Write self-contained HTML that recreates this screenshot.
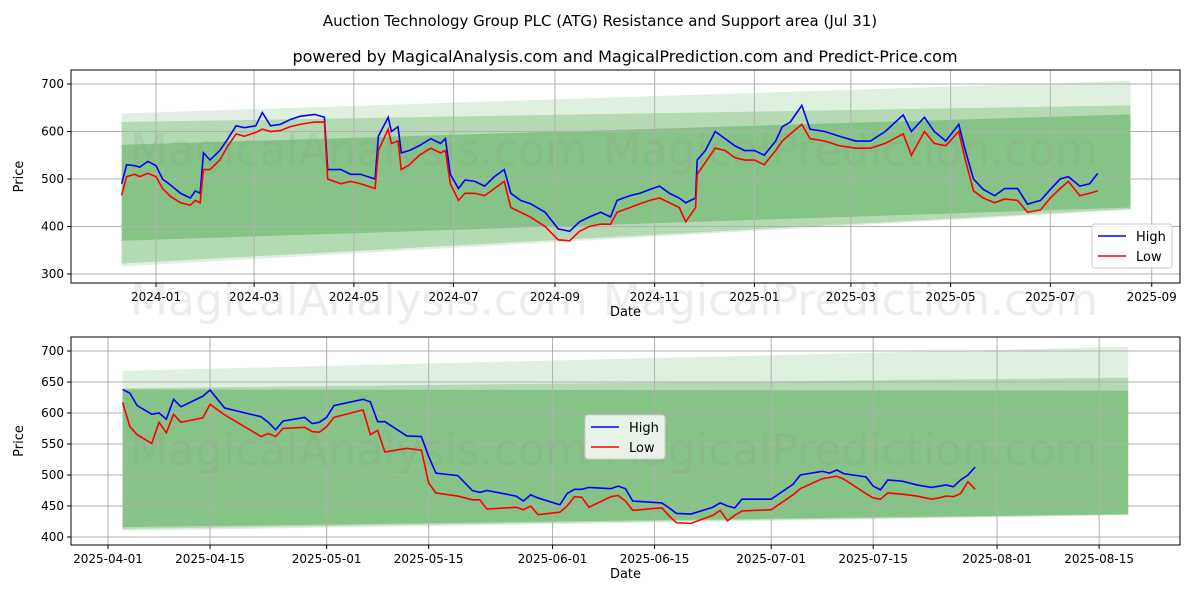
<!DOCTYPE html>
<html><head><meta charset="utf-8"><style>
body{margin:0;background:#fff}
svg text{font-family:"DejaVu Sans","Liberation Sans",sans-serif}
</style></head><body>
<svg id="c" width="1200" height="600" xmlns="http://www.w3.org/2000/svg">
<text x="600" y="26" text-anchor="middle" font-size="15">Auction Technology Group PLC (ATG) Resistance and Support area (Jul 31)</text>
<text x="625" y="62" text-anchor="middle" font-size="16">powered by MagicalAnalysis.com and MagicalPrediction.com and Predict-Price.com</text>
</svg>
<script>
// Top chart: days since 2024-01-01
const topDays=[-21,-18,-13,-10,-5,0,4,9,15,21,24,27,29,33,39,44,49,54,61,65,70,76,82,88,97,103,105,113,119,125,134,136,142,144,148,150,155,161,168,174,177,180,185,189,195,201,207,213,217,223,229,238,246,253,259,265,272,278,282,290,296,302,308,314,320,324,330,331,336,342,348,354,360,366,372,379,383,388,395,400,409,418,428,437,446,457,462,470,476,483,491,495,500,506,513,519,527,533,541,547,553,558,565,571,576];
const topHigh=[490,530,528,525,537,528,500,487,470,460,475,470,555,540,560,585,612,608,612,640,612,615,625,632,636,630,520,520,510,510,500,590,630,600,610,555,560,570,585,575,585,510,480,498,495,485,505,520,470,455,448,430,395,390,410,420,430,420,455,465,470,478,485,470,460,450,460,540,560,600,585,570,560,560,550,580,610,620,655,605,600,590,580,580,600,635,600,630,600,580,615,560,500,478,465,480,480,447,455,478,500,505,485,490,512];
const topLow=[466,505,510,505,512,505,480,463,450,445,455,450,520,520,540,570,595,590,598,605,600,602,610,615,620,620,500,490,495,490,480,560,605,575,580,520,530,550,565,555,560,490,455,470,470,465,480,495,440,430,420,400,372,370,390,400,405,405,430,440,448,455,460,450,440,410,440,510,535,565,560,545,540,540,530,560,580,595,615,585,580,570,565,565,575,595,550,600,575,570,600,540,475,460,450,458,455,430,435,460,480,495,465,470,475];
const topTicks=[300,400,500,600,700];
const topXTicks=[["2024-01",0],["2024-03",60],["2024-05",121],["2024-07",182],["2024-09",244],["2024-11",305],["2025-01",366],["2025-03",425],["2025-05",486],["2025-07",547],["2025-09",609]];
const topBands=[[-21,596,638,707,316,435],[-21,596,620,655,322,437],[-21,596,572,636,370,440]];
// Bottom chart: days since 2025-04-01
const botDays=[2,3,4,6,7,8,9,10,13,14,16,21,22,23,24,27,28,29,30,31,35,36,37,38,41,43,44,45,48,50,51,52,56,57,58,59,62,63,64,65,66,69,70,71,72,76,77,78,80,83,84,85,86,87,91,93,94,95,98,99,100,101,104,105,106,107,109,111,113,114,115,116,117,118,119];
const botHigh=[638,632,612,598,600,590,622,610,627,637,608,594,585,573,587,593,583,585,593,612,622,618,586,586,563,562,530,503,499,475,472,475,466,458,468,463,452,470,477,477,480,478,482,478,458,455,447,438,437,448,455,450,447,461,461,477,485,500,506,503,508,502,497,482,476,492,490,484,480,482,484,481,492,500,513];
const botLow=[617,578,565,551,585,568,598,585,592,614,597,562,567,562,575,577,570,569,578,593,605,565,572,537,543,540,487,471,466,460,460,445,448,444,450,436,440,450,465,464,448,465,467,458,443,447,434,423,422,435,443,426,435,442,444,460,468,478,494,496,498,493,470,463,461,471,469,466,461,463,466,465,470,489,477];
const botTicks=[400,450,500,550,600,650,700];
const botXTicks=[["2025-04-01",0],["2025-04-15",14],["2025-05-01",30],["2025-05-15",44],["2025-06-01",61],["2025-06-15",75],["2025-07-01",91],["2025-07-15",105],["2025-08-01",122],["2025-08-15",136]];
const botBands=[[2,140,668,707,410,435],[2,140,640,657,413,436],[2,140,638,636,416,437]];

const svg=document.getElementById('c');const NS='http://www.w3.org/2000/svg';
function mk(t,a,p){const e=document.createElementNS(NS,t);for(const k in a)e.setAttribute(k,a[k]);(p||svg).appendChild(e);return e;}
const opac=[0.12,0.2,0.25];
function chart(name,box,xd,yd,days,hi,lo,yt,xt,bands,legPos,wm){
 const [L,T,R,B]=box;
 const g=mk('g',{});
 
 
 const X=d=>L+(d-xd[0])/(xd[1]-xd[0])*(R-L);
 const Y=v=>B-(v-yd[0])/(yd[1]-yd[0])*(B-T);
 bands.forEach((b,i)=>{const p=mk('polygon',{points:`${X(b[0])},${Y(b[2])} ${X(b[1])},${Y(b[3])} ${X(b[1])},${Y(b[5])} ${X(b[0])},${Y(b[4])}`,fill:'#008000','fill-opacity':opac[i]},g);
  
  });
 yt.forEach(v=>{const y=Y(v);mk('line',{x1:L,x2:R,y1:y,y2:y,stroke:'#b0b0b0','stroke-width':1},g);mk('line',{x1:L-4,x2:L,y1:y,y2:y,stroke:'#000'},g);
  const t=mk('text',{x:L-7,y:y+4,'text-anchor':'end','font-size':12},g);t.textContent=v;
  
  });
 xt.forEach(([s,d])=>{const x=X(d);mk('line',{x1:x,x2:x,y1:T,y2:B,stroke:'#b0b0b0','stroke-width':1},g);mk('line',{x1:x,x2:x,y1:B,y2:B+4,stroke:'#000'},g);
  const t=mk('text',{x:x,y:B+18,'text-anchor':'middle','font-size':12},g);t.textContent=s;
  
  });
 wm.forEach(([s,x,y])=>{const t=mk('text',{x:x,y:y,'font-size':44,fill:'#888','fill-opacity':0.15},g);t.textContent=s;
  
  });
 const pts=a=>a.map((v,i)=>X(days[i])+','+Y(v)).join(' ');
 const h=mk('polyline',{points:pts(hi),fill:'none',stroke:'#0000ff','stroke-width':1.6},g);
 
 
 const l=mk('polyline',{points:pts(lo),fill:'none',stroke:'#ff0000','stroke-width':1.6},g);
 
 
 mk('rect',{x:L,y:T,width:R-L,height:B-T,fill:'none',stroke:'#000','stroke-width':1},g);
 const xl=mk('text',{x:(L+R)/2,y:B+33,'text-anchor':'middle','font-size':13},g);xl.textContent='Date';
 
 
 const yl=mk('text',{x:0,y:0,'text-anchor':'middle','font-size':13,transform:`translate(${L-48},${(T+B)/2}) rotate(-90)`},g);yl.textContent='Price';
 
 
 const [lx,ly]=legPos;
 const lg=mk('g',{},g);
 
 
 mk('rect',{x:lx,y:ly,width:80,height:44,rx:3,fill:'#fff','fill-opacity':0.8,stroke:'#ccc'},lg);
 [['High','#0000ff'],['Low','#ff0000']].forEach(([s,c],i)=>{const yy=ly+12+i*20;
  mk('line',{x1:lx+6,x2:lx+34,y1:yy,y2:yy,stroke:c,'stroke-width':1.6},lg);
  const t=mk('text',{x:lx+44,y:yy+5,'font-size':13},lg);t.textContent=s;
  
  });
}
chart('top-chart',[71,70,1180,283],[-52.0,626.3],[281.1,729.5],topDays,topHigh,topLow,topTicks,topXTicks,topBands,[1092,224],
 [['MagicalAnalysis.com',130,165],['MagicalPrediction.com',603,165],['MagicalAnalysis.com',130,315],['MagicalPrediction.com',603,315]]);
chart('bottom-chart',[71,337,1180,545],[-5.08,147.1],[387.1,722.6],botDays,botHigh,botLow,botTicks,botXTicks,botBands,[585,415],
 [['MagicalAnalysis.com',130,465],['MagicalPrediction.com',603,465]]);
</script>
</body></html>
